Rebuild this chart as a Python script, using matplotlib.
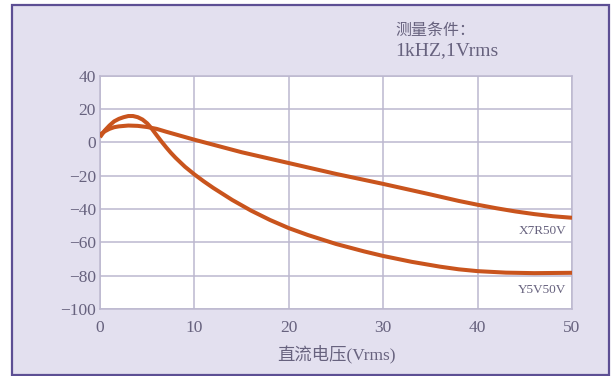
import numpy as np
import matplotlib
matplotlib.use('Agg')
from matplotlib import pyplot as plt
from matplotlib.patches import Rectangle

# values
x7r_v = [0, 0.5, 1, 1.5, 2, 3, 4, 5, 6, 7, 8, 10, 12, 15, 20, 25, 30, 35, 38, 40, 42, 44, 46, 48, 50]
x7r_c = [4.5, 6.5, 8, 9, 9.5, 10, 9.8, 9.1, 8, 6.3, 4.7, 1.5, -1.5, -6, -12.5, -19, -25, -31.3, -35.2, -37.5, -39.6, -41.5, -43.1, -44.4, -45.3]

y5v_v = [0, 0.5, 1, 1.5, 2, 2.5, 3, 3.5, 4, 4.5, 5, 5.5, 6, 6.5, 7, 7.5, 8, 9, 10,
         11, 12, 14, 16, 18, 20, 22, 25, 28, 30, 33, 36, 38, 40, 43, 46, 50]
y5v_c = [3, 7, 10, 12.5, 14, 15, 15.7, 15.7, 15, 13.6, 11.3, 8, 4.2, 0.5, -3, -6.3, -9.3, -14.7, -19.3,
         -23.5, -27.4, -34.6, -41, -46.6, -51.5, -55.6, -61, -65.5, -68.2, -71.7, -74.6, -76.2, -77.3, -78.2, -78.5, -78.3]

xticks = [0, 10, 20, 30, 40, 50]
yticks = [40, 20, 0, -20, -40, -60, -80, -100]

line_col = '#c9541d'
bg_col = '#e3e0ef'
txt_col = '#67627e'
grid_col = '#bcb8cf'
serif = ['Liberation Serif', 'Noto Sans CJK SC']

fig = plt.figure(figsize=(6.11, 3.76), dpi=100)
fig.patch.set_facecolor('white')
# lavender panel with purple frame
fig.patches.append(Rectangle((12/611, 1-375/376), 597/611, 370/376, transform=fig.transFigure,
                             facecolor=bg_col, edgecolor='#5d4f94', lw=1.6, zorder=-1))

ax = fig.add_axes([100/611, 1-309/376, 472/611, 233.5/376])
ax.set_zorder(2)
ax.set_facecolor('white')
ax.plot(x7r_v, x7r_c, color=line_col, lw=2.9, solid_capstyle='butt', zorder=3)
ax.plot(y5v_v, y5v_c, color=line_col, lw=2.9, solid_capstyle='butt', zorder=3)

ax.set_xlim(0, 50)
ax.set_ylim(-100, 40)
ax.set_xticks(xticks)
ax.set_yticks(yticks)
ax.set_xticklabels([str(t) for t in xticks], family=serif, fontsize=12.5, color=txt_col)
ax.set_yticklabels([str(t).replace('-', '\u2212') for t in yticks], family=serif, fontsize=12.5, color=txt_col)
ax.tick_params(axis='x', length=0, pad=8)
ax.tick_params(axis='y', length=0, pad=3)
ax.grid(True, color=grid_col, lw=1.1, zorder=1)
for s in ax.spines.values():
    s.set_color(grid_col)
    s.set_linewidth(1.1)

ax.set_xlabel('直流电压(Vrms)', family=serif, fontsize=12.5, color=txt_col, labelpad=6)

ax.text(49.4, -53, 'X7R50V', family=serif, fontsize=9.5, color=txt_col, ha='right', va='center')
ax.text(49.4, -88.5, 'Y5V50V', family=serif, fontsize=9.5, color=txt_col, ha='right', va='center')

fig.text(395/611, 1-30/376, '测量条件：', family=['Noto Sans CJK SC'], fontsize=11.5, color=txt_col, va='center')
fig.text(395/611, 1-51/376, '1kHZ,1Vrms', family=serif, fontsize=14, color=txt_col, va='center')

plt.savefig('out.png', dpi=100)
